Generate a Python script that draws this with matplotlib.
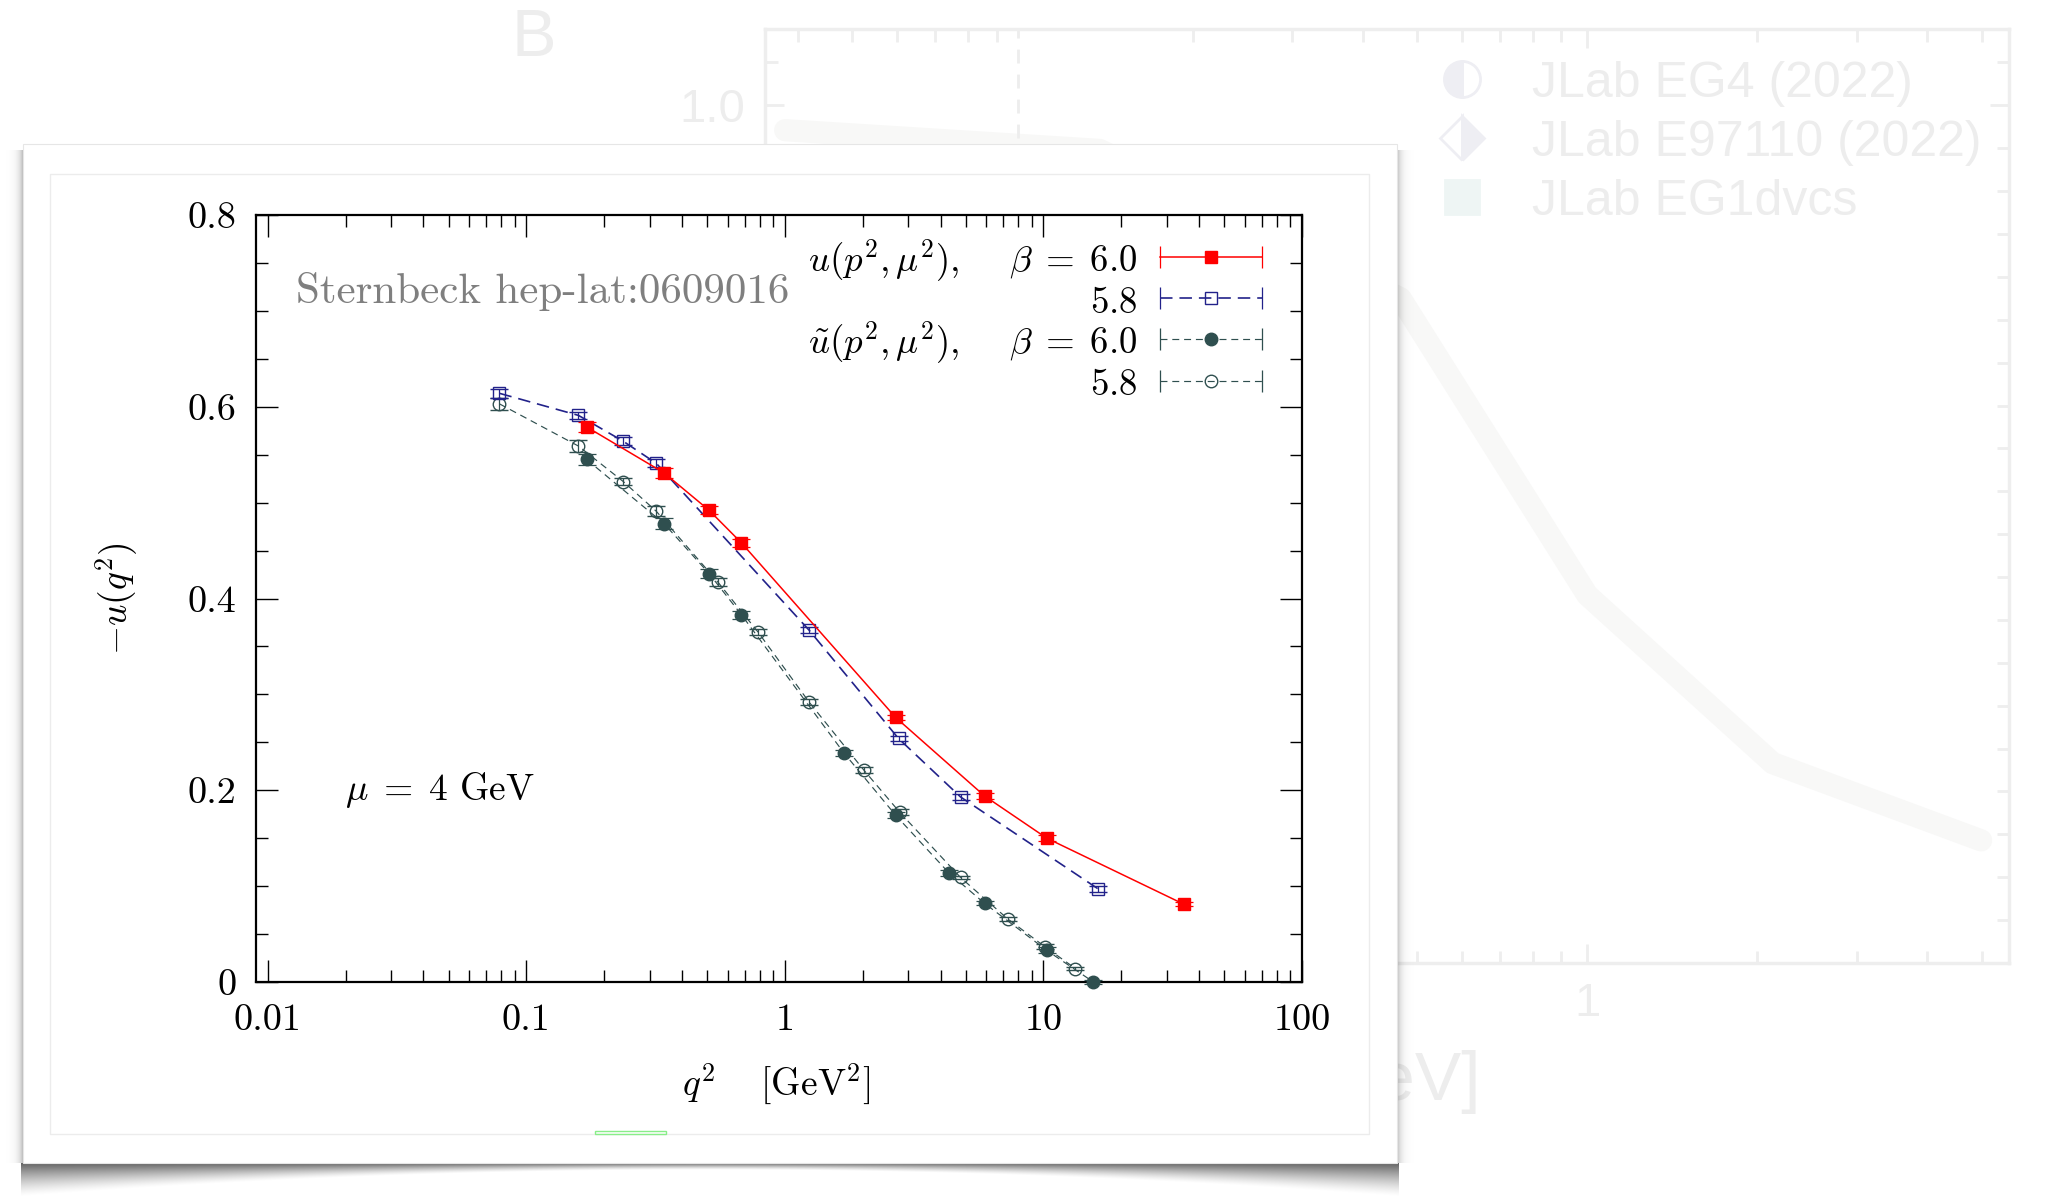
import numpy as np
import matplotlib.pyplot as plt
from matplotlib.lines import Line2D
from matplotlib.patches import Rectangle
from matplotlib.legend_handler import HandlerLine2D, HandlerTuple
from matplotlib.ticker import FixedLocator, MultipleLocator, NullFormatter

plt.rcParams['font.family'] = 'cmr10'
plt.rcParams['mathtext.fontset'] = 'cm'
plt.rcParams['axes.formatter.use_mathtext'] = True
plt.rcParams['lines.scale_dashes'] = False

# ---- data: Sternbeck hep-lat:0609016, mu = 4 GeV ----
# u(p^2, mu^2), beta = 6.0
q2_u60 = [0.171, 0.341, 0.509, 0.679, 2.68, 5.92, 10.3, 35.0]
u60 = [0.579, 0.531, 0.492, 0.458, 0.276, 0.194, 0.150, 0.081]
u60_err = [0.005, 0.005, 0.004, 0.004, 0.003, 0.003, 0.003, 0.002]
# u(p^2, mu^2), beta = 5.8
q2_u58 = [0.0787, 0.159, 0.237, 0.318, 1.24, 2.75, 4.78, 16.3]
u58 = [0.614, 0.591, 0.564, 0.541, 0.367, 0.254, 0.193, 0.097]
u58_err = [0.005, 0.004, 0.004, 0.004, 0.003, 0.003, 0.003, 0.003]
# u~(p^2, mu^2), beta = 6.0
q2_ut60 = [0.171, 0.341, 0.509, 0.679, 1.69, 2.68, 4.30, 5.92, 10.3, 15.6]
ut60 = [0.545, 0.478, 0.426, 0.383, 0.239, 0.174, 0.114, 0.082, 0.033, 0.0]
ut60_err = [0.006, 0.006, 0.005, 0.004, 0.003, 0.003, 0.003, 0.002, 0.003, 0.002]
# u~(p^2, mu^2), beta = 5.8
q2_ut58 = [0.0787, 0.159, 0.237, 0.318, 0.551, 0.787, 1.24, 2.02, 2.78, 4.78, 7.26, 10.1, 13.3]
ut58 = [0.603, 0.559, 0.522, 0.491, 0.417, 0.365, 0.292, 0.221, 0.177, 0.109, 0.066, 0.037, 0.014]
ut58_err = [0.006, 0.006, 0.004, 0.005, 0.004, 0.003, 0.003, 0.003, 0.003, 0.002, 0.002, 0.003, 0.002]

x_ticks = [0.01, 0.1, 1, 10, 100]
x_ticklabels = ['0.01', '0.1', '1', '10', '100']
y_ticks = [0, 0.2, 0.4, 0.6, 0.8]
y_ticklabels = ['0', '0.2', '0.4', '0.6', '0.8']

legend_labels = [r'$u(p^2,\mu^2),\quad\ \beta\;=\;6.0$', r'$5.8$',
                 r'$\tilde{u}(p^2,\mu^2),\quad\ \beta\;=\;6.0$', r'$5.8$']

# faded slide in the background
bg_curve_q = [0.038, 0.137, 0.467, 1.0, 2.13, 4.98]
bg_curve_val = [0.971, 0.948, 0.775, 0.429, 0.233, 0.143]
bg_legend = ['JLab EG4 (2022)', 'JLab E97110 (2022)', 'JLab EG1dvcs']

RED = '#ff0000'
BLUE = '#22228a'
SLATE = '#2f4f4f'
FAINT = '#ededed'

W, H = 2050, 1197
fig = plt.figure(figsize=(W / 100, H / 100), dpi=100)
fig.patch.set_facecolor('white')

# ---- background (faded) chart ----
ax_bg = fig.add_axes([765 / W, 1 - 963 / H, 1244 / W, 934 / H], zorder=0)
ax_bg.set_xscale('log')
ax_bg.plot(bg_curve_q, bg_curve_val, color='#f8f8f7', lw=16, solid_capstyle='round')
ax_bg.axvline(0.098, color=FAINT, lw=2, ls=(0, (10, 8)))
ax_bg.set_xlim(0.035, 5.58)
ax_bg.set_ylim(0, 1.089)
for s in ax_bg.spines.values():
    s.set_color('#eeeeee')
    s.set_linewidth(2.5)
ax_bg.xaxis.set_major_locator(FixedLocator([1]))
ax_bg.set_xticklabels(['1'])
ax_bg.yaxis.set_major_locator(FixedLocator([1.0]))
ax_bg.set_yticklabels(['1.0'])
ax_bg.yaxis.set_minor_locator(MultipleLocator(0.05))
ax_bg.tick_params(which='both', direction='in', top=True, right=True, colors='#eeeeee',
                  labelcolor=FAINT, labelsize=34, width=2, pad=14)
ax_bg.tick_params(which='major', length=14)
ax_bg.tick_params(which='minor', length=9)
for t in ax_bg.get_xticklabels() + ax_bg.get_yticklabels():
    t.set_fontfamily('Liberation Sans')
bg_handles = [Line2D([], [], ls='none', marker='o', ms=26, color='#eeeef3', fillstyle='left', mew=2),
              Line2D([], [], ls='none', marker='D', ms=22, color='#eeeef3', fillstyle='right', mew=2),
              Line2D([], [], ls='none', marker='s', ms=24, color='#eef5f4', mew=2)]
ax_bg.legend(bg_handles, bg_legend, loc='upper left', bbox_to_anchor=(0.540, 0.966),
             frameon=False, labelcolor=FAINT, handlelength=1.0,
             handletextpad=0.9, labelspacing=0.26, borderpad=0, borderaxespad=0,
             prop={'family': 'Liberation Sans', 'size': 36})

# ---- slide layer: faded texts, card shadow and white card ----
ax_sl = fig.add_axes([0, 0, 1, 1], zorder=1)
ax_sl.axis('off')
ax_sl.text(534, 39, 'B', fontsize=48, color=FAINT, family='Liberation Sans',
           ha='center', va='center', zorder=0.5)
ax_sl.text(1481, 1082, 'Q  [GeV]', fontsize=50, color=FAINT, family='Liberation Sans',
           ha='right', va='center', zorder=0.5)

xx, yy = np.meshgrid(np.arange(0, 1430) + 0.5, np.arange(120, H) + 0.5)
alpha = np.zeros_like(xx)
in_y = (yy >= 150) & (yy <= 1163)
alpha = np.where(in_y & (xx < 23), 0.28 * np.exp(-(23 - xx) / 4.0), alpha)
alpha = np.where(in_y & (xx > 1397), 0.28 * np.exp(-(xx - 1397) / 4.0), alpha)
depth = 7 + 27 * ((xx - 710) / 687.0) ** 2
t = (yy - 1163) / depth
bottom = np.where((yy > 1163) & (t < 1) & (xx > 21) & (xx < 1399),
                  0.62 * np.clip(1 - t, 0, 1) ** 1.4, 0)
alpha = np.maximum(alpha, bottom)
rgba = np.zeros(xx.shape + (4,))
rgba[..., 3] = alpha
ax_sl.imshow(rgba, extent=(0, 1430, H, 120), interpolation='bilinear', aspect='auto', zorder=1)

ax_sl.add_patch(Rectangle((23, 144), 1374, 1019, facecolor='white', edgecolor='#e6e6e6',
                          lw=0.8, zorder=2))
ax_sl.add_patch(Rectangle((50, 174), 1319, 960, facecolor='none', edgecolor='#ececec',
                          lw=1.0, zorder=2.1))
ax_sl.add_patch(Rectangle((595, 1131), 71, 3, facecolor='none', edgecolor='#88ee88',
                          lw=1.0, zorder=2.2))
ax_sl.set_xlim(0, W)
ax_sl.set_ylim(H, 0)

# ---- main chart ----
ax = fig.add_axes([256 / W, 1 - 982 / H, 1046 / W, 767 / H], zorder=2)
ax.set_xscale('log')

eb_u60 = ax.errorbar(q2_u60, u60, yerr=u60_err, color=RED, ls='-', lw=1.1, marker='s', ms=9,
                     mfc=RED, mec=RED, capsize=6.5, elinewidth=0.9, capthick=0.9,
                     clip_on=False, zorder=5)
eb_u58 = ax.errorbar(q2_u58, u58, yerr=u58_err, color=BLUE, ls=(0, (9, 5)), lw=1.2, marker='s',
                     ms=9, mfc='none', mec=BLUE, mew=1.0, capsize=6.5, elinewidth=0.9,
                     capthick=0.9, clip_on=False, zorder=4)
eb_ut60 = ax.errorbar(q2_ut60, ut60, yerr=ut60_err, color=SLATE, ls=(0, (5, 3.5)), lw=0.85,
                      marker='o', ms=9, mfc=SLATE, mec=SLATE, capsize=6.5, elinewidth=0.9,
                      capthick=0.9, clip_on=False, zorder=4)
eb_ut58 = ax.errorbar(q2_ut58, ut58, yerr=ut58_err, color=SLATE, ls=(0, (5, 3.5)), lw=0.85,
                      marker='o', ms=9, mfc='none', mec=SLATE, mew=1.0, capsize=6.5,
                      elinewidth=0.9, capthick=0.9, clip_on=False, zorder=3)

ax.set_xlim(0.009, 100)
ax.set_ylim(0, 0.8)
ax.xaxis.set_major_locator(FixedLocator(x_ticks))
ax.xaxis.set_minor_locator(FixedLocator([m * d for d in [0.01, 0.1, 1, 10] for m in range(2, 10)]))
ax.xaxis.set_minor_formatter(NullFormatter())
ax.set_xticklabels(x_ticklabels)
ax.yaxis.set_major_locator(FixedLocator(y_ticks))
ax.yaxis.set_minor_locator(MultipleLocator(0.05))
ax.set_yticklabels(y_ticklabels)
ax.tick_params(which='both', direction='in', top=True, right=True, width=1.0, labelsize=27.5)
ax.tick_params(which='major', length=15.6)
ax.tick_params(which='minor', length=8.4)
ax.tick_params(axis='x', pad=16)
ax.tick_params(axis='y', pad=14)
for s in ax.spines.values():
    s.set_linewidth(1.6)

ax.set_xlabel(r'$q^2\quad\ [\mathrm{GeV}^2]$', fontsize=27)
ax.xaxis.set_label_coords(0.497, -0.104)
ax.set_ylabel(r'$-u(q^2)$', fontsize=27)
ax.yaxis.set_label_coords(-0.111, 0.5)

ax.text(0.0382, 0.8853, 'Sternbeck hep-lat:0609016', transform=ax.transAxes, fontsize=31,
        color='#7f7f7f', va='baseline')
ax.text(0.0851, 0.2373, r'$\mu\;=\;4$ GeV', transform=ax.transAxes, fontsize=27, va='baseline')

# legend: line + point in the middle, error bar ends at both sides
handles = []
hmap = {tuple: HandlerTuple(ndivide=1, pad=0)}
for eb, col in [(eb_u60, RED), (eb_u58, BLUE), (eb_ut60, SLATE), (eb_ut58, SLATE)]:
    ends = Line2D([], [], color=col, marker='|', ms=16, mew=0.9, ls='none')
    hmap[ends] = HandlerLine2D(numpoints=2, marker_pad=0)
    handles.append((eb[0], ends))
ax.legend(handles, legend_labels, handler_map=hmap, loc='upper right',
          bbox_to_anchor=(0.9618, 0.9712), frameon=False, fontsize=26.5, markerfirst=False,
          handlelength=2.78, handleheight=1.0, handletextpad=0.61, labelspacing=0.0,
          borderpad=0, borderaxespad=0, numpoints=1)

fig.savefig('out.png', dpi=100, facecolor='white')
